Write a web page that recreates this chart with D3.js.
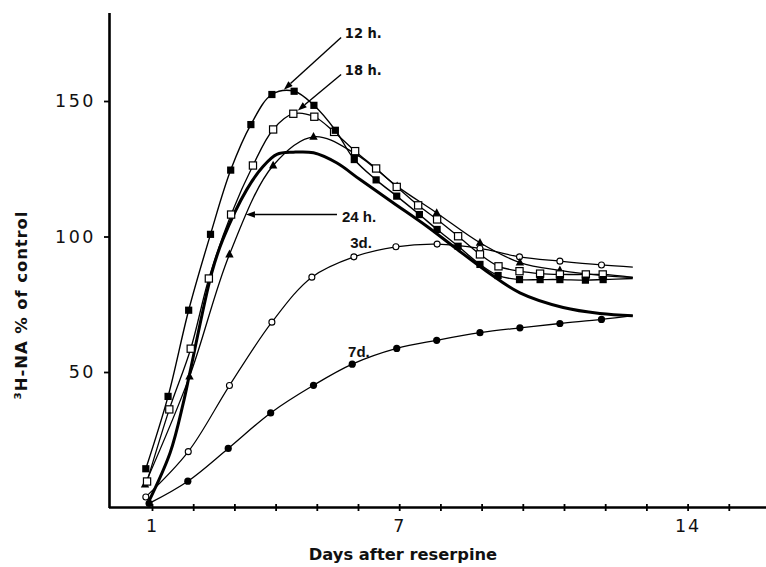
<!DOCTYPE html>
<html><head><meta charset="utf-8">
<script src="https://cdn.jsdelivr.net/npm/d3@7"></script>
<style>body{margin:0;background:#fff}svg{display:block;background:#fff}</style>
</head><body><svg id="c" width="766" height="567"></svg>
<script>
// ---- data (days after reserpine, % of control) ----
const xTicks = [1,2,3,4,5,6,7,8,9,10,11,12,13,14,15];
const xTickLabels = [1, 7, 14];
const yTicks = [50, 100, 150];

const days12h = [0.85,1.39,1.89,2.42,2.91,3.40,3.91,4.45,4.93,5.45,5.91,6.44,6.94,7.49,7.92,8.43,8.96,9.40,9.92,10.42,10.90,11.52,11.95,12.67];
const vals12h = [14.3,41.0,72.8,100.8,124.5,141.3,152.4,153.6,148.4,139.2,128.4,120.9,114.9,108.1,102.6,96.4,89.7,85.6,84.1,84.1,84.1,83.9,84.1,84.5];

const days18h = [0.88,1.42,1.94,2.38,2.92,3.45,3.94,4.43,4.94,5.42,5.93,6.44,6.94,7.46,7.92,8.43,8.96,9.41,9.92,10.42,10.90,11.53,11.94,12.67];
const vals18h = [9.6,36.2,58.6,84.5,108.1,126.2,139.5,145.3,144.2,138.6,131.5,125.1,118.3,111.5,106.3,100.1,93.4,89.0,87.2,86.3,86.0,86.0,86.0,84.9];

const days24h = [0.83,1.91,2.88,3.94,4.92,5.93,6.95,7.91,8.96,9.93,10.90,11.95,12.67];
const vals24h = [8.5,48.3,93.4,126.2,136.8,130.6,118.5,108.7,97.7,90.4,87.5,85.6,84.9];

const daysThick = [0.90,1.44,1.76,1.92,2.45,2.72,3.30,3.70,4.03,4.43,4.92,5.48,6.05,6.86,7.67,8.31,9.12,9.93,10.98,11.87,12.67];
const valsThick = [1.5,20.2,38.6,49.8,86.6,98.9,117.3,125.9,130.3,131.1,130.9,127.2,121.0,112.4,103.8,96.4,87.2,79.2,73.8,71.6,70.8];

const days3d = [0.85,1.88,2.88,3.91,4.88,5.90,6.92,7.92,8.96,9.92,10.90,11.91,12.67];
const vals3d = [3.9,20.6,45.0,68.4,85.0,92.5,96.2,97.2,95.6,92.5,90.9,89.5,88.7];

const days7d = [0.93,1.87,2.85,3.88,4.92,5.86,6.94,7.91,8.96,9.93,10.90,11.91,12.67];
const vals7d = [1.5,9.7,21.8,34.9,45.1,52.9,58.7,61.7,64.5,66.3,67.9,69.4,70.8];

// annotation labels: text, label anchor (day,value), arrow start, arrow tip
const annoText = ["12 h.", "18 h.", "24 h.", "3d.", "7d."];
const annoPos  = [[5.68,175.3],[5.68,161.6],[5.61,107.4],[5.81,97.6],[5.76,57.4]];
const arrowFrom = [[5.59,173.4],[5.59,159.8],[5.49,108.1]];
const arrowTo   = [[4.20,154.2],[4.54,146.5],[3.28,108.1]];

// ---- drawing ----
const svg = d3.select('#c');
const x = d3.scaleLinear().domain([0,16]).range([110.8,770]);
const y = d3.scaleLinear().domain([0,182.66]).range([507.5,12.5]);

svg.append('rect').attr('width',766).attr('height',567).attr('fill','#fff');

// axes
const xAxis = svg.append('g').attr('transform',`translate(0,${y(0)})`)
  .call(d3.axisBottom(x).tickValues(xTicks).tickSizeInner(3.5).tickSizeOuter(0).tickPadding(9)
    .tickFormat(d => xTickLabels.includes(d) ? d : ''));
xAxis.select('.domain').attr('stroke','#000').attr('stroke-width',2.4).attr('d',`M109,0H766`);
xAxis.selectAll('.tick line').attr('y1',-3.5).attr('y2',3.5).attr('stroke-width',1.8).attr('stroke','#000');
xAxis.selectAll('.tick text').attr('font-family','DejaVu Sans, sans-serif').attr('font-size',17.5)
  .attr('letter-spacing',2).attr('fill','#111');

const yAxis = svg.append('g').attr('transform','translate(109,0)')
  .call(d3.axisLeft(y).tickValues(yTicks).tickSizeInner(5).tickSizeOuter(0).tickPadding(7));
yAxis.select('.domain').attr('stroke','#000').attr('stroke-width',2.6);
yAxis.selectAll('.tick line').attr('stroke-width',1.8).attr('stroke','#000');
yAxis.selectAll('.tick text').attr('font-family','DejaVu Sans, sans-serif').attr('font-size',17.5)
  .attr('letter-spacing',2.5).attr('fill','#111').attr('dx',-1);

// axis titles
svg.append('text').attr('x',403).attr('y',560).attr('text-anchor','middle')
  .attr('font-family','DejaVu Sans, sans-serif').attr('font-weight','bold').attr('font-size',16.3)
  .attr('fill','#111').text('Days after reserpine');
svg.append('text').attr('transform','translate(27,305) rotate(-90)').attr('text-anchor','middle')
  .attr('font-family','DejaVu Sans, sans-serif').attr('font-weight','bold').attr('font-size',16.5)
  .attr('letter-spacing',0.9).attr('fill','#111').text('³H-NA % of control');

// lines
const line = d3.line().x(d => x(d[0])).y(d => y(d[1])).curve(d3.curveCatmullRom.alpha(0.5));
const series = [
  {days: days3d, vals: vals3d, w: 1.2, mk: 'ocircle'},
  {days: days7d, vals: vals7d, w: 1.3, mk: 'fcircle'},
  {days: daysThick, vals: valsThick, w: 3.0, mk: null},
  {days: days24h, vals: vals24h, w: 1.3, mk: 'ftri'},
  {days: days18h, vals: vals18h, w: 1.3, mk: 'osquare'},
  {days: days12h, vals: vals12h, w: 1.4, mk: 'fsquare'}
];
series.forEach(s => {
  const pts = s.days.map((d,i) => [d, s.vals[i]]);
  svg.append('path').datum(pts).attr('d',line).attr('fill','none').attr('stroke','#000')
    .attr('stroke-width',s.w).attr('stroke-linejoin','round');
});
// markers (last point of each series is the line end, no marker)
series.forEach(s => {
  if (!s.mk) return;
  const pts = s.days.slice(0,-1).map((d,i) => [d, s.vals[i]]);
  const g = svg.append('g');
  pts.forEach(p => {
    const cx = x(p[0]), cy = y(p[1]);
    if (s.mk === 'fsquare') g.append('rect').attr('x',cx-3.6).attr('y',cy-3.6).attr('width',7.2).attr('height',7.2).attr('fill','#000');
    if (s.mk === 'osquare') g.append('rect').attr('x',cx-3.6).attr('y',cy-3.6).attr('width',7.2).attr('height',7.2).attr('fill','#fff').attr('stroke','#000').attr('stroke-width',1.2);
    if (s.mk === 'ftri') g.append('path').attr('d',`M${cx},${cy-4.8}L${cx+4.2},${cy+3}L${cx-4.2},${cy+3}Z`).attr('fill','#000');
    if (s.mk === 'ocircle') g.append('circle').attr('cx',cx).attr('cy',cy).attr('r',3).attr('fill','#fff').attr('stroke','#000').attr('stroke-width',1.1);
    if (s.mk === 'fcircle') g.append('circle').attr('cx',cx).attr('cy',cy).attr('r',3.6).attr('fill','#000');
  });
});

// arrows
arrowFrom.forEach((f,i) => {
  const t = arrowTo[i];
  const x1 = x(f[0]), y1 = y(f[1]), x2 = x(t[0]), y2 = y(t[1]);
  const ang = Math.atan2(y2-y1, x2-x1);
  const L = 9, W = 3.2;
  const bx = x2 - L*Math.cos(ang), by = y2 - L*Math.sin(ang);
  svg.append('line').attr('x1',x1).attr('y1',y1).attr('x2',bx).attr('y2',by).attr('stroke','#000').attr('stroke-width',1.4);
  svg.append('path').attr('d',`M${x2},${y2}L${bx - W*Math.sin(ang)},${by + W*Math.cos(ang)}L${bx + W*Math.sin(ang)},${by - W*Math.cos(ang)}Z`).attr('fill','#000');
});

// labels
annoText.forEach((t,i) => {
  const narrow = i < 2;
  svg.append('text').attr('x',x(annoPos[i][0])).attr('y',y(annoPos[i][1])).attr('dy','0.36em')
    .attr('font-family', narrow ? 'Liberation Sans Narrow, DejaVu Sans Condensed, sans-serif' : 'Liberation Sans, Arial, sans-serif')
    .attr('font-weight','bold').attr('font-size', narrow ? 14.5 : 15).attr('fill','#111').text(t);
});
</script></body></html>
